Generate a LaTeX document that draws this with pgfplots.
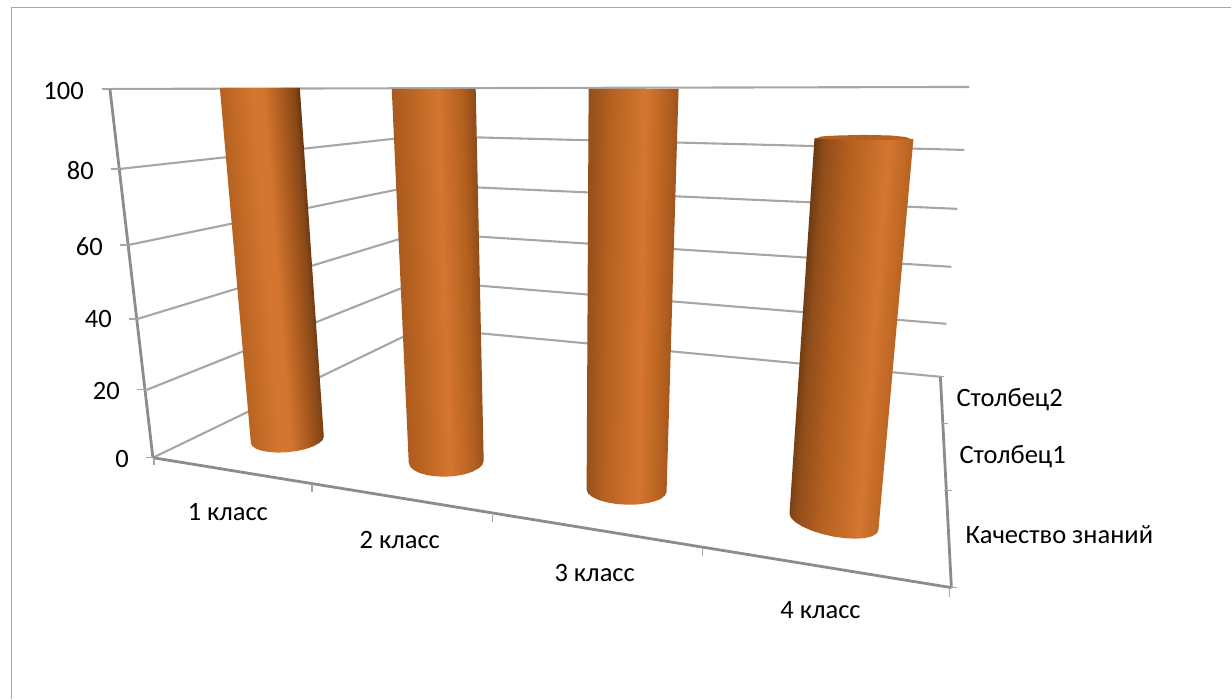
\documentclass[border=0pt]{standalone}
\usepackage{fontspec}
\setmainfont{Carlito}
\usepackage{pgfplots}
\pgfplotsset{compat=1.18}
\definecolor{gridc}{HTML}{A6A6A6}
\definecolor{axisc}{HTML}{8C8C8C}
\definecolor{capc}{HTML}{B5601F}
\definecolor{c0}{HTML}{4E2A0E}
\definecolor{c1}{HTML}{B4601F}
\definecolor{c2}{HTML}{D47630}
% only the middle of a shading reaches the path, so the stops sit inside 25bp..75bp
\pgfdeclarehorizontalshading{cylA}{100bp}{color(0bp)=(c1!85!c0); color(31.7bp)=(c1!85!c0); color(33.5bp)=(c1); color(48bp)=(c2); color(52bp)=(c2); color(59bp)=(c1!92!c0); color(64.5bp)=(c1!55!c0); color(68.3bp)=(c0); color(100bp)=(c0)}
\pgfdeclarehorizontalshading{cylB}{100bp}{color(0bp)=(c1!85!c0); color(28.3bp)=(c1!85!c0); color(37bp)=(c1!95!c2); color(53bp)=(c2); color(65bp)=(c1); color(71.7bp)=(c1!60!c0); color(100bp)=(c1!60!c0)}
\pgfdeclarehorizontalshading{cylC}{100bp}{color(0bp)=(c1!70!c0); color(26.6bp)=(c1!70!c0); color(38.3bp)=(c1!85!c2); color(54.7bp)=(c2); color(66.4bp)=(c1); color(73.4bp)=(c1!70!c0); color(100bp)=(c1!70!c0)}
\pgfdeclarehorizontalshading{cylD}{100bp}{color(0bp)=(c0!80!c1); color(31bp)=(c0!80!c1); color(35.5bp)=(c1!65!c0); color(44.3bp)=(c1); color(57.6bp)=(c2); color(64.4bp)=(c1!70!c2); color(69bp)=(c1!90!c0); color(100bp)=(c1!90!c0)}
\pgfplotsset{
  gl/.style={gridc,line width=2.1pt},
  ax/.style={axisc,line width=2.8pt},
  tk/.style={gridc,line width=1.4pt},
}
\begin{document}
\begin{tikzpicture}
\begin{axis}[
    scale only axis,
    width=1232pt,
    height=699pt,
    xmin=0, xmax=1232,
    ymin=0, ymax=699,
    y dir=reverse,
    hide axis,
    clip=false,
    every axis plot/.append style={forget plot},
]
% frame
\addplot[gridc,line width=1.6pt] coordinates {(11.5,699) (11.5,7.5) (1232,7.5)};
% left wall
\addplot[gl] coordinates {(120,169) (420,136)};
\addplot[gl] coordinates {(129,245) (420,185)};
\addplot[gl] coordinates {(138,319) (420,233)};
\addplot[gl] coordinates {(147,390) (420,281)};
\addplot[gl] coordinates {(153,458) (422,328)};
% back wall
\addplot[gl] coordinates {(110,89) (970,87)};
\addplot[gl] coordinates {(420,136) (965,150)};
\addplot[gl] coordinates {(420,185) (958,209)};
\addplot[gl] coordinates {(420,233) (952,267)};
\addplot[gl] coordinates {(420,281) (947,324)};
\addplot[gl] coordinates {(422,328) (941,377)};
% axes
\addplot[ax] coordinates {(110,89) (153,458)};
\addplot[ax] coordinates {(153,458) (952,588)};
\addplot[ax] coordinates {(941,377) (952,588)};
% ticks
\addplot[tk] coordinates {(102,89) (110,89)};
\addplot[tk] coordinates {(111,169) (120,169)};
\addplot[tk] coordinates {(120,245) (129,245)};
\addplot[tk] coordinates {(129,319) (138,319)};
\addplot[tk] coordinates {(137,390) (147,390)};
\addplot[tk] coordinates {(146,458) (153,458)};
\addplot[tk] coordinates {(154,458) (154,465)};
\addplot[tk] coordinates {(312,484) (312,492)};
\addplot[tk] coordinates {(493,515) (493,522)};
\addplot[tk] coordinates {(703,549) (703,556)};
\addplot[tk] coordinates {(950,588) (950,597)};
\addplot[tk] coordinates {(938,377) (945,377)};
\addplot[tk] coordinates {(943,424) (949,424)};
\addplot[tk] coordinates {(945,491) (953,491)};
\addplot[tk] coordinates {(952,588) (958,588)};
% cylinders
\addplot[draw=none,shading=cylA,shading angle=4.4] coordinates {
  (220,88) (300,88) (324,437) (322.8,440.3) (319.1,443.6) (313.3,446.7) (305.8,449.3) (297,451.3) (287.5,452.5)
  (278,452.9) (269.3,452.3) (261.7,450.9) (255.9,448.9) (252.2,446.1) (251,443)} -- cycle;
\addplot[draw=none,shading=cylB,shading angle=1.9] coordinates {
  (392,89) (476,89) (484,461) (482.7,464.9) (479,468.6) (473,471.9) (465.3,474.5) (456.2,476.2) (446.5,477)
  (436.8,476.7) (427.8,475.5) (420,473.3) (414,470.4) (410.3,466.8) (409,463)} -- cycle;
\addplot[draw=none,shading=cylC,shading angle=-1] coordinates {
  (589,89) (679,89) (667,492) (665.6,495.6) (661.6,498.9) (655.3,501.6) (647,503.6) (637.4,504.8) (627,505)
  (616.6,504.3) (607,502.6) (598.7,500.2) (592.4,497.1) (588.4,493.7) (587,490)} -- cycle;
\addplot[fill=capc,draw=none] coordinates {
  (815,139) (822,136.5) (840,135.5) (865,135) (890,135.5) (906,137) (914,140) (890,143) (860,144) (835,143)} -- cycle;
\addplot[draw=none,shading=cylD,shading angle=-4.4] coordinates {
  (815,138.5) (835,139.5) (860,140) (890,140) (914,139) (879,530) (877.5,533.6) (873,536.4) (866,538.3) (856.8,539) (846,538.6) (834.5,537)
  (823,534.4) (812.3,531) (803,526.9) (796,522.6) (791.5,518.2) (790,514)} -- cycle;
% labels
\tikzset{lab/.style={font=\fontsize{26.5}{30}\selectfont,text=black,inner sep=0pt}}
\node[lab,anchor=east] at (axis cs:84,91) {100};
\node[lab,anchor=east] at (axis cs:94,171) {80};
\node[lab,anchor=east] at (axis cs:103,247) {60};
\node[lab,anchor=east] at (axis cs:112,319) {40};
\node[lab,anchor=east] at (axis cs:120,391) {20};
\node[lab,anchor=east] at (axis cs:129,459) {0};
\node[lab] at (axis cs:228,512) {1 класс};
\node[lab] at (axis cs:400,540) {2 класс};
\node[lab] at (axis cs:595,573) {3 класс};
\node[lab] at (axis cs:821,610) {4 класс};
\node[lab,anchor=west] at (axis cs:957,400) {Столбец2};
\node[lab,anchor=west] at (axis cs:960,457) {Столбец1};
\node[lab,anchor=west] at (axis cs:966,535) {Качество знаний};
\end{axis}
\path (0,0) rectangle (1232pt,699pt);
\end{tikzpicture}
\end{document}
